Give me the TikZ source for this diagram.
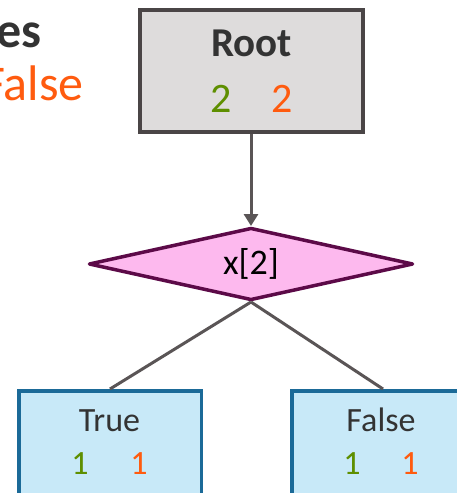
\documentclass[tikz,border=0pt]{standalone}
\usepackage{fontspec}
\setmainfont{Carlito}
\usepackage{tikz}
\usetikzlibrary{arrows.meta,positioning,shapes.geometric}
\usepackage{xcolor}
\definecolor{cntgreen}{HTML}{5E8F00}
\definecolor{cntorange}{HTML}{FF5B0F}
\definecolor{txtdark}{HTML}{333333}
\definecolor{rootfill}{HTML}{DEDCDC}
\definecolor{rootline}{HTML}{4A4546}
\definecolor{splitfill}{HTML}{FDB9EE}
\definecolor{splitline}{HTML}{5C0A48}
\definecolor{leaffill}{HTML}{C8E9F8}
\definecolor{leafline}{HTML}{1B6A98}
\definecolor{edgegray}{HTML}{5A5556}
\tikzset{
  rootbox/.style={draw=rootline, fill=rootfill, line width=4pt, inner sep=0pt,
    minimum width=223pt, minimum height=122.5pt},
  splitnode/.style={diamond, aspect=4.5, draw=splitline, fill=splitfill, line width=3.5pt,
    line join=round, inner sep=0pt, minimum width=324.5pt, minimum height=72.5pt,
    text=black, font=\fontsize{36}{40}\selectfont},
  leafbox/.style={draw=leafline, fill=leaffill, line width=3.5pt, inner sep=0pt,
    minimum width=182.5pt, minimum height=130pt},
  titletext/.style={anchor=base, inner sep=0pt, text=txtdark},
  cnttext/.style={anchor=base, inner sep=0pt},
  treeedge/.style={draw=edgegray, line width=3pt},
  treearrow/.style={treeedge, -{Triangle[length=12pt, width=14pt]}},
}
\newcommand{\rootsize}{\fontsize{41}{48}\selectfont}
\newcommand{\leafsize}{\fontsize{34}{40}\selectfont}
\newcommand{\legendsize}{\fontsize{50}{58}\selectfont}

\begin{document}
\begin{tikzpicture}[x=1pt, y=-1pt]
  \useasboundingbox (0,0) rectangle (456,493);

  \node[titletext, anchor=base east, font=\legendsize\bfseries] (legtitle) at (42,47) {es};
  \node[cnttext, anchor=base east, text=cntorange, font=\legendsize] (legno) at (84,100) {False};

  \node[rootbox] (root) at (251,70.75) {};
  \node[titletext, font=\rootsize\bfseries] (roottitle) at (251.5,56.7) {Root};
  \node[cnttext, text=cntgreen, font=\fontsize{42}{48}\selectfont] (rootyes) at (221,112) {2};
  \node[cnttext, text=cntorange, font=\fontsize{42}{48}\selectfont] (rootno) at (282,112) {2};

  \node[splitnode] (split) at (251,264) {x[2]};

  \node[leafbox] (tleaf) at (110,455.75) {};
  \node[titletext, font=\leafsize] (ttitle) at (109.5,431) {True};
  \node[cnttext, text=cntgreen, font=\leafsize] (tyes) at (80,474) {1};
  \node[cnttext, text=cntorange, font=\leafsize] (tno) at (139,474) {1};

  \node[leafbox] (fleaf) at (383,455.75) {};
  \node[titletext, font=\leafsize] (ftitle) at (381,431) {False};
  \node[cnttext, text=cntgreen, font=\leafsize] (fyes) at (352,474) {1};
  \node[cnttext, text=cntorange, font=\leafsize] (fno) at (410,474) {1};

  \draw[treearrow] (root.south) -- (split.north);
  \draw[treeedge] (split.south) -- (tleaf.north);
  \draw[treeedge] (split.south) -- (fleaf.north);
\end{tikzpicture}
\end{document}
